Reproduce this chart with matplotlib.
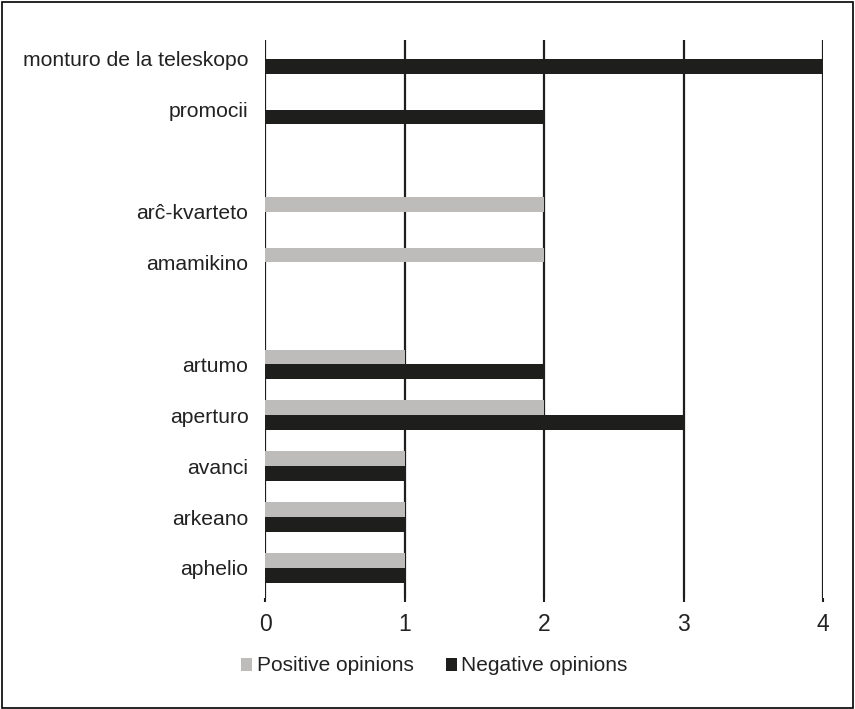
import matplotlib.pyplot as plt
from matplotlib.patches import Rectangle

# data (bottom to top); empty strings are blank rows in the chart
categories = ['aphelio', 'arkeano', 'avanci', 'aperturo', 'artumo', '',
              'amamikino', 'arĉ-kvarteto', '', 'promocii', 'monturo de la teleskopo']
positive = [1, 1, 1, 2, 1, 0, 2, 2, 0, 0, 0]
negative = [1, 1, 1, 3, 2, 0, 0, 0, 0, 2, 4]
x_ticks = [0, 1, 2, 3, 4]

plt.rcParams['font.family'] = ['Liberation Sans', 'DejaVu Sans']
text_color = '#222222'
pos_color = '#bdbcba'
neg_color = '#1e1e1c'

fig = plt.figure(figsize=(8.55, 7.09), dpi=100)
ax = fig.add_axes([0.31, 0.1566, 0.9626 - 0.31, 0.9436 - 0.1566])

y = list(range(len(categories)))
h = 0.29
ax.barh([v + h / 2 for v in y], positive, height=h, color=pos_color, zorder=3,
        label='Positive opinions')
ax.barh([v - h / 2 for v in y], negative, height=h, color=neg_color, zorder=3,
        label='Negative opinions')

ax.set_xlim(0, 4)
ax.set_ylim(-0.59, 10.37)
ax.set_xticks(x_ticks)
ax.set_yticks(y)
ax.set_yticklabels(categories, fontsize=15.2, color=text_color)
ax.tick_params(axis='y', length=0, pad=12)
ax.tick_params(axis='x', length=3, width=1.5, color='#1e1e1e', pad=8,
               labelsize=16.5, labelcolor=text_color)
for s in ax.spines.values():
    s.set_visible(False)
ax.grid(axis='x', color='#1e1e1e', linewidth=1.6, zorder=1)
ax.set_axisbelow(True)

ax.legend(loc='center', bbox_to_anchor=(0.508, 0.0607), ncol=2,
          frameon=False, fontsize=15, handlelength=0.55, handleheight=0.58,
          handletextpad=0.2, columnspacing=1.55, labelcolor=text_color,
          bbox_transform=fig.transFigure)

fig.patches.append(Rectangle((0.002, 0.002), 0.996, 0.995, transform=fig.transFigure,
                             fill=False, edgecolor='black', linewidth=1.2))

fig.savefig('out.png', dpi=100)
